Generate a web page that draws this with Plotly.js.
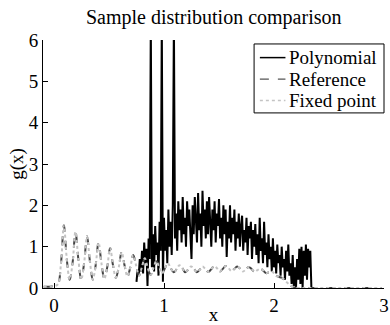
<!DOCTYPE html>
<html>
<head>
<meta charset="utf-8">
<script src="https://cdn.plot.ly/plotly-3.0.1.min.js"></script>
<style>html,body{margin:0;padding:0;background:#fff;}#chart{width:390px;height:325px;}</style>
</head>
<body>
<div id="chart"></div>
<script>
// Polynomial series: x starts at 0.75, step 0.01
const polyStart = 0.75;
const polyStep = 0.01;
const polynomialValues = [
  0.15, 0.45, 0.3, 0.7, 0.4,
  0.9, 0.35, 1.1, 0.6, 0.95,
  0.05, 1.2, 0.7, 6.5, 0.5,
  1.3, 0.4, 1.5, 0.8, 1.1,
  0.3, 1.6, 0.9, 6.5, 0.15,
  1.7, 0.9, 1.4, 0.6, 1.9,
  1.0, 1.6, 0.8, 2.0, 6.5,
  1.2, 1.8, 0.9, 2.1, 1.4,
  1.9, 1.1, 2.2, 1.3, 1.7,
  1.0, 2.1, 1.5, 1.9, 1.2,
  0.7, 2.0, 1.3, 2.2, 1.6,
  1.1, 2.3, 1.4, 1.8, 1.0,
  2.35, 1.5, 1.9, 1.2, 2.1,
  1.3, 2.2, 1.6, 1.0, 1.9,
  1.4, 2.1, 1.1, 1.8, 1.5,
  2.15, 1.2, 1.7, 1.0, 2.0,
  1.3, 1.9, 0.75, 1.6, 1.2,
  2.0, 1.1, 1.7, 1.3, 1.9,
  0.9, 1.6, 1.2, 1.8, 1.0,
  1.5, 1.75, 0.9, 1.4, 1.1,
  1.7, 0.8, 1.5, 1.2, 1.6,
  0.7, 1.4, 1.0, 1.55, 0.8,
  1.3, 0.6, 1.7, 0.9, 1.2,
  0.6, 1.6, 0.8, 1.1, 0.5,
  1.3, 0.7, 1.0, 0.4, 1.2,
  0.5, 0.9, 0.35, 1.05, 0.6,
  0.8, 0.3, 1.0, 0.5, 0.7,
  0.2, 0.9, 0.4, 1.05, 0.3,
  0.6, 0.1, 0.8, 0.05, 0.5,
  0.0, 0.7, 0.2, 0.95, 0.1,
  1.0, 0.0, 0.9, 0.3, 1.05,
  0.2, 0.95, 0.5, 0.9,
  0.0
];

// Reference series: x starts at -0.09375, step 0.02625
const refStart = -0.09375;
const refStep = 0.02625;
const referenceValues = [
  0.03, 0.03, 0.03, 0.04, 0.05, 0.1, 0.6, 1.52, 0.7, 0.2,
  0.6, 1.36, 0.7, 0.2, 0.6, 1.25, 0.65, 0.2, 0.55, 1.1,
  0.6, 0.22, 0.5, 0.97, 0.55, 0.25, 0.5, 0.87, 0.55, 0.28,
  0.5, 0.8, 0.55, 0.3, 0.5, 0.72, 0.5, 0.32, 0.48, 0.65,
  0.5, 0.35, 0.48, 0.6, 0.48, 0.38, 0.45, 0.55, 0.48, 0.38,
  0.44, 0.52, 0.47, 0.38, 0.44, 0.52, 0.46, 0.39, 0.45, 0.53,
  0.48, 0.40, 0.46, 0.53, 0.48, 0.41, 0.46, 0.52, 0.47, 0.40,
  0.45, 0.51, 0.46, 0.39, 0.43, 0.47, 0.42, 0.36, 0.38, 0.40,
  0.34, 0.28, 0.26, 0.22, 0.15, 0.09, 0.04, 0.01, 0, 0,
  0, 0, 0, 0, 0, 0, 0, 0, 0, 0,
  0, 0, 0, 0, 0, 0, 0, 0, 0, 0,
  0, 0, 0, 0, 0, 0, 0, 0
];

// Fixed point series (coincides with reference)
const fixedPointValues = referenceValues;

const seriesNames = ["Polynomial", "Reference", "Fixed point"];
const seriesColors = ["#000000", "#454545", "#c4c4c4"];
const seriesDash = ["solid", "dash", "dot"];
const xTicks = [0, 1, 2, 3];
const yTicks = [0, 1, 2, 3, 4, 5, 6];

const fontFam = "Liberation Serif, Times New Roman, serif";

const traces = [
  {
    type: "scatter", mode: "lines", name: seriesNames[0],
    x0: polyStart, dx: polyStep, y: polynomialValues,
    line: {color: seriesColors[0], width: 2}
  },
  {
    type: "scatter", mode: "lines", name: seriesNames[1],
    x0: refStart, dx: refStep, y: referenceValues,
    line: {color: seriesColors[1], width: 2, dash: seriesDash[1], shape: "spline", smoothing: 1}
  },
  {
    type: "scatter", mode: "lines", name: seriesNames[2],
    x0: refStart, dx: refStep, y: fixedPointValues,
    line: {color: seriesColors[2], width: 2, dash: seriesDash[2], shape: "spline", smoothing: 1}
  }
];

// Legend drawn in paper coordinates (box, line samples, labels)
const legBox = {x0: 0.619, x1: 1.0, y0: 0.706, y1: 0.984};
const legRowsY = [0.929, 0.842, 0.756];
const legLineX = [0.636, 0.711];
const legTextX = 0.716;

const shapes = [
  {type: "rect", xref: "paper", yref: "paper", x0: legBox.x0, x1: legBox.x1, y0: legBox.y0, y1: legBox.y1,
   line: {color: "#000", width: 1}, fillcolor: "#ffffff", layer: "above"}
];
const annotations = [];
seriesNames.forEach((n, i) => {
  shapes.push({type: "line", xref: "paper", yref: "paper", x0: legLineX[0], x1: legLineX[1],
               y0: legRowsY[i], y1: legRowsY[i], layer: "above",
               line: {color: i === 1 ? "#555555" : seriesColors[i], width: i === 0 ? 1.5 : 1.3, dash: seriesDash[i]}});
  annotations.push({xref: "paper", yref: "paper", x: legTextX, y: legRowsY[i], xanchor: "left", yanchor: "middle",
                    text: n, showarrow: false, font: {family: fontFam, size: 19, color: "#000"}});
});

const layout = {
  width: 390, height: 325,
  margin: {l: 43, r: 6, t: 40, b: 37},
  paper_bgcolor: "#ffffff", plot_bgcolor: "#ffffff",
  font: {family: fontFam, size: 19, color: "#000"},
  title: {text: "Sample distribution comparison", font: {family: fontFam, size: 20, color: "#000"},
          x: 0.548, xanchor: "center", y: 0.948, yanchor: "middle"},
  showlegend: false,
  shapes: shapes,
  annotations: annotations,
  xaxis: {
    range: [-0.1, 3], tickmode: "array", tickvals: xTicks, ticktext: xTicks.map(String),
    showgrid: false, zeroline: false, showline: true, linecolor: "#000", linewidth: 1,
    ticks: "inside", ticklen: 5, tickcolor: "#000", mirror: false,
    title: {text: "x", font: {family: fontFam, size: 19}, standoff: 0}
  },
  yaxis: {
    range: [0, 6], tickmode: "array", tickvals: yTicks, ticktext: yTicks.map(String),
    showgrid: false, zeroline: false, showline: true, linecolor: "#000", linewidth: 1,
    ticks: "inside", ticklen: 5, tickcolor: "#000", mirror: false,
    title: {text: "g(x)", font: {family: fontFam, size: 19}, standoff: 0}
  }
};

Plotly.newPlot("chart", traces, layout, {displayModeBar: false, staticPlot: true});
</script>
</body>
</html>
